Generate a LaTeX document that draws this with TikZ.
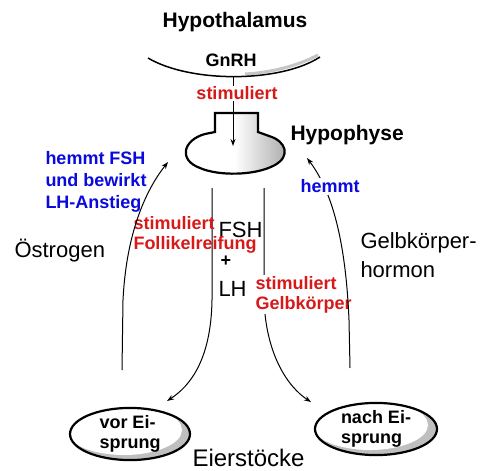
\documentclass[tikz,border=0pt]{standalone}
\usepackage{fontspec}
\setmainfont{Liberation Sans}
\usetikzlibrary{arrows.meta,shapes.geometric}
\definecolor{hormonrot}{RGB}{215,25,25}
\definecolor{hormonblau}{RGB}{10,10,220}

\begin{document}
\begin{tikzpicture}[x=1pt, y=-1pt, >={Stealth[length=7pt,width=5pt]}, line width=1pt,
	every node/.style={inner sep=0pt, font=\fontsize{18}{22}\selectfont\bfseries},
	titel/.style={font=\fontsize{21}{24}\selectfont\bfseries},
	gross/.style={font=\fontsize{22}{29}\selectfont},
	wirkrot/.style={text=hormonrot, align=left, font=\fontsize{18}{20}\selectfont\bfseries},
	wirkblau/.style={text=hormonblau, align=left},
	organ/.style={ellipse, draw, line width=2.2pt, minimum width=120pt, minimum height=52pt,
		align=left, font=\fontsize{18}{20}\selectfont\bfseries,
		path picture={
			\fill[gray!50] (path picture bounding box.south west) rectangle (path picture bounding box.north east);
			\fill[white] ([xshift=-6pt, yshift=4pt]path picture bounding box.center) ellipse [x radius=58pt, y radius=25pt];
		}}]
	\useasboundingbox (0,0) rectangle (486,470);
	
	% Hypothalamus mit Bogen
	\node[titel, anchor=base] (hypoth) at (235,28) {Hypothalamus};
	\draw[gray!45, line width=3pt] (245,74) .. controls (280,72) and (305,62) .. (318,55);
	\draw[line width=1.5pt] (148,58) .. controls (190,83) and (280,83) .. (320,57);
	\node[anchor=base] (gnrh) at (231,67) {GnRH};
	
	% Hypophyse
	\shadedraw[line width=2.2pt, left color=white, right color=gray!70, middle color=white]
		(215,113) -- (215,132) -- (205,134) .. controls (183,140) and (178,160) .. (200,168)
		.. controls (218,176) and (255,176) .. (275,165) .. controls (291,156) and (286,141) .. (269,136)
		-- (258,132) -- (258,113) -- cycle;
	\node[titel, anchor=base west] (hypoph) at (290,141) {Hypophyse};
	
	% GnRH-Pfeil
	\coordinate (gnrhfuss) at (233,76);
	\coordinate (gnrhziel) at (233,146);
	\draw[->] (gnrhfuss) -- (gnrhziel);
	\node[wirkrot, fill=white, inner sep=1pt, anchor=base] (stimgnrh) at (237,100) {stimuliert};
	
	% Eierstoecke
	\node[organ] (vor) at (130,434) {vor Ei-\\sprung};
	\node[organ, minimum width=122pt] (nach) at (376,429) {nach Ei-\\sprung};
	\node[font=\fontsize{24}{28}\selectfont, anchor=base west] (eier) at (192,466) {Eierstöcke};
	
	% FSH + LH
	\coordinate (fshlinks) at (212,188);
	\coordinate (fshrechts) at (264,188);
	\coordinate (vorpfeil) at (167,401);
	\coordinate (nachpfeil) at (311,402);
	\draw[->] (fshlinks) -- (212,300) .. controls (211,360) and (190,386) .. (vorpfeil);
	\draw[->] (fshrechts) -- (264,300) .. controls (266,355) and (288,387) .. (nachpfeil);
	\node[gross, anchor=base west] (fsh) at (218,237) {FSH};
	\node[gross, font=\fontsize{18}{20}\selectfont\bfseries] (plus) at (226,261) {+};
	\node[gross, anchor=base west] (lh) at (218,296) {LH};
	\node[wirkrot, anchor=base west] (follikel) at (133,249) {stimuliert\\Follikelreifung};
	\node[wirkrot, fill=white, inner sep=1pt, anchor=base west] (gelbkoerper) at (254,309) {stimuliert\\Gelbkörper};
	
	% Rueckkopplung
	\coordinate (oestfuss) at (122,370);
	\coordinate (oestziel) at (168,162);
	\draw[->] (oestfuss) -- (123,300) .. controls (126,240) and (142,195) .. (oestziel);
	\coordinate (gelbfuss) at (350,368);
	\coordinate (gelbziel) at (307,158);
	\draw[->] (gelbfuss) -- (349,320) .. controls (346,250) and (335,195) .. (gelbziel);
	\node[wirkblau, anchor=base west] (hemmtfsh) at (45,208) {hemmt FSH\\und bewirkt\\LH-Anstieg};
	\node[wirkblau, fill=white, inner sep=2pt, anchor=base west] (hemmt) at (298,193) {hemmt};
	\node[gross, anchor=base west] (oestrogen) at (14,257) {Östrogen};
	\node[gross, anchor=base west, align=left] (gelbhormon) at (360,277) {Gelbkörper-\\hormon};
\end{tikzpicture}
\end{document}
